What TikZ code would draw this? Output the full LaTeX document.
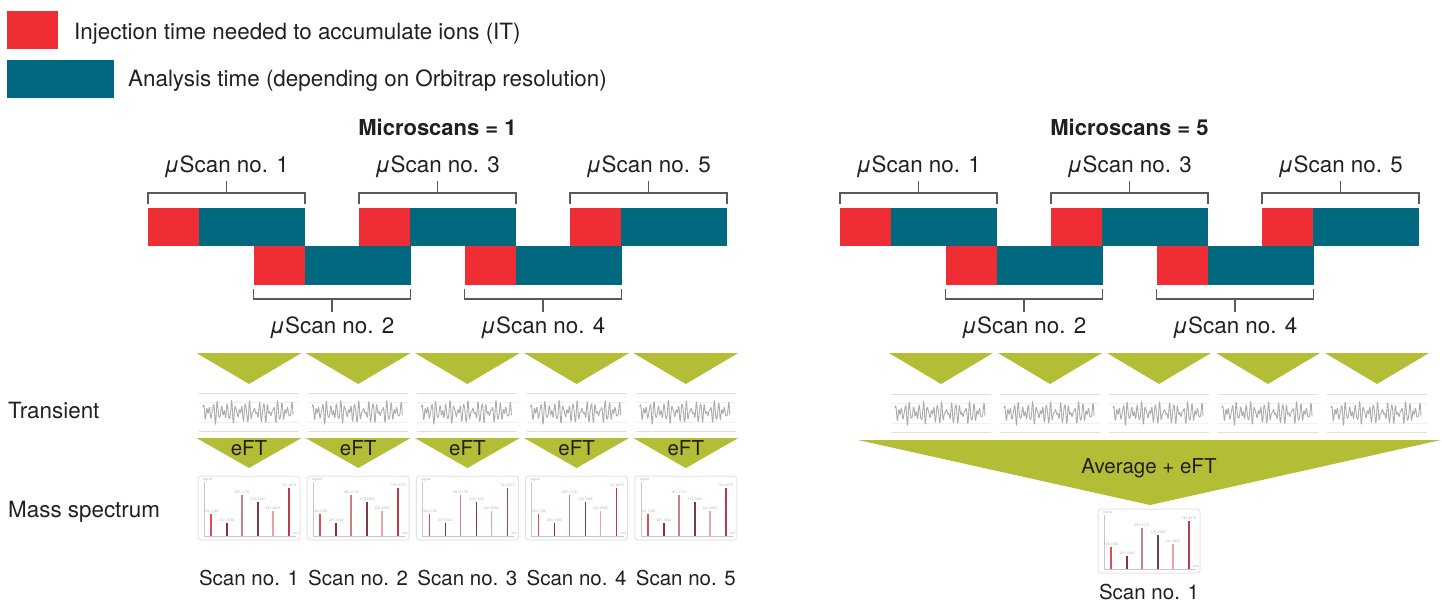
\documentclass[tikz,border=0pt]{standalone}
\usepackage{fontspec}
\setmainfont{TeX Gyre Heros}
\definecolor{ired}{RGB}{238,46,52}
\definecolor{iteal}{RGB}{0,105,127}
\definecolor{iolive}{RGB}{180,189,54}
\definecolor{brk}{RGB}{90,90,90}
\definecolor{txt}{RGB}{35,31,32}
\definecolor{pka}{RGB}{214,80,85}
\definecolor{pkb}{RGB}{140,50,55}
\definecolor{pkc}{RGB}{200,130,130}
\definecolor{pkd}{RGB}{120,60,65}
\definecolor{pke}{RGB}{230,165,165}
\definecolor{pkf}{RGB}{185,60,75}
\tikzset{
  lbl/.style={font=\fontsize{22.4}{26}\selectfont, text=txt, inner sep=0pt},
  slbl/.style={font=\fontsize{20.5}{24}\selectfont, text=txt, inner sep=0pt},
  ttl/.style={font=\fontsize{22}{26}\selectfont\bfseries, text=txt, inner sep=0pt},
  redbar/.style={fill=ired, draw=none, minimum width=51pt, minimum height=38.5pt, inner sep=0pt, outer sep=0pt, anchor=north west},
  tealbar/.style={fill=iteal, draw=none, minimum width=106pt, minimum height=38.5pt, inner sep=0pt, outer sep=0pt, anchor=north west},
  brace/.style={draw=brk, line width=1.4pt},
  tiny/.style={font=\fontsize{3.5}{4}\selectfont, text=gray!60, inner sep=0pt},
  transient/.pic={
    \draw[gray!25, line width=0.6pt] (-50,-19) -- (50,-19);
    \draw[gray!12, line width=0.5pt] (-50,-10) -- (50,-10) (-50,10) -- (50,10);
    \draw[gray!25, line width=0.6pt] (-50,19) -- (50,19);
    \draw[gray!65, line width=0.9pt, line join=round]
      plot[domain=-46:44, samples=240] (\x, {-(5.5*sin(\x*78+20) + 4.5*sin(\x*101+60) + 2.5*sin(\x*143+10))});
  },
  spectrum/.pic={
    \draw[gray!22, line width=1pt, rounded corners=3pt] (-51,-32) rectangle (51,32);
    \draw[gray!45, line width=0.6pt] (-45,-26) -- (-45,28) -- (47,28);
    \draw[pka, line width=1.6pt] (-38,28) -- (-38,6);
    \draw[pkb, line width=1.6pt] (-22,28) -- (-22,15);
    \draw[pkc, line width=1.6pt] (-7,28) -- (-7,-13);
    \draw[pkd, line width=1.6pt] (9,28) -- (9,-6);
    \draw[pke, line width=1.6pt] (24,28) -- (24,3);
    \draw[pkf, line width=1.6pt] (40,28) -- (40,-20);
    \node[tiny] at (-38,3) {124.1120};
    \node[tiny] at (-22,12) {201.1340};
    \node[tiny] at (-7,-16) {281.1176};
    \node[tiny] at (9,-9) {372.1505};
    \node[tiny] at (24,0) {541.2550};
    \node[tiny] at (40,-23) {741.4070};
    \node[tiny, anchor=west] at (-46,-28) {signal};
    \node[tiny, anchor=east] at (50,25.5) {m/z};
  }
}
\begin{document}
\begin{tikzpicture}[x=1pt,y=-1pt]
\useasboundingbox (0,0) rectangle (1442,601);
% legend
\node[fill=ired, minimum width=51pt, minimum height=38pt, inner sep=0pt, anchor=north west] (legIT) at (7,11) {};
\node[fill=iteal, minimum width=107pt, minimum height=38pt, inner sep=0pt, anchor=north west] (legAT) at (7,60) {};
\node[lbl, anchor=base west] (legITt) at (74,40) {Injection time needed to accumulate ions (IT)};
\node[lbl, anchor=base west] (legATt) at (128,87) {Analysis time (depending on Orbitrap resolution)};
% row labels
\node[lbl, anchor=base west] (rowT) at (8,418) {Transient};
\node[lbl, anchor=base west] (rowM) at (8,517) {Mass spectrum};
% titles
\node[ttl, anchor=base] (ttlL) at (437.5,136) {Microscans = 1};
\node[ttl, anchor=base] (ttlR) at (1129.5,136) {Microscans = 5};
% scans
\foreach \ox/\sd in {0/L,692/R}{
  \foreach \k in {0,...,4}{
    \pgfmathsetmacro\s{148+\ox+105.5*\k}
    \pgfmathtruncatemacro\n{\k+1}
    \ifodd\k
      \node[redbar] (ir\sd\n) at (\s,246.5) {};
      \node[tealbar] (an\sd\n) at (ir\sd\n.north east) {};
      \draw[brace] (\s,289) -- (\s,299) -- (\s+157,299) -- (\s+157,289);
      \draw[brace] (\s+78.5,299) -- (\s+78.5,312);
      \node[lbl, anchor=base] (us\sd\n) at (\s+78.5,334) {{\itshape μ}Scan no. \n};
    \else
      \node[redbar] (ir\sd\n) at (\s,208) {};
      \node[tealbar] (an\sd\n) at (ir\sd\n.north east) {};
      \draw[brace] (\s,204) -- (\s,193) -- (\s+157,193) -- (\s+157,204);
      \draw[brace] (\s+78.5,193) -- (\s+78.5,181);
      \node[lbl, anchor=base] (us\sd\n) at (\s+78.5,173) {{\itshape μ}Scan no. \n};
    \fi
  }
}
% left: per-scan processing
\foreach \k in {0,...,4}{
  \pgfmathsetmacro\c{249+109.2*\k}
  \pgfmathtruncatemacro\n{\k+1}
  \fill[iolive] (\c-52.5,353) -- (\c+52.5,353) -- (\c,384) -- cycle;
  \pic (trL\n) at (\c,412) {transient};
  \fill[iolive] (\c-52.5,438) -- (\c+52.5,438) -- (\c,468) -- cycle;
  \node[slbl, anchor=base] (eft\n) at (\c,455) {eFT};
  \pic (msL\n) at (\c,508) {spectrum};
  \node[slbl, anchor=base] (scL\n) at (\c,585) {Scan no. \n};
}
% right: averaged processing
\foreach \k in {0,...,4}{
  \pgfmathsetmacro\c{941+109*\k}
  \pgfmathtruncatemacro\n{\k+1}
  \fill[iolive] (\c-52,353) -- (\c+52,353) -- (\c,384) -- cycle;
  \pic (trR\n) at (\c,413) {transient};
}
\fill[iolive] (858,440) -- (1441,440) -- (1150,505) -- cycle;
\node[slbl, anchor=base] (avg) at (1149,473) {Average + eFT};
\pic (msR1) at (1149,541) {spectrum};
\node[slbl, anchor=base] (scR1) at (1149,599) {Scan no. 1};
\end{tikzpicture}
\end{document}
